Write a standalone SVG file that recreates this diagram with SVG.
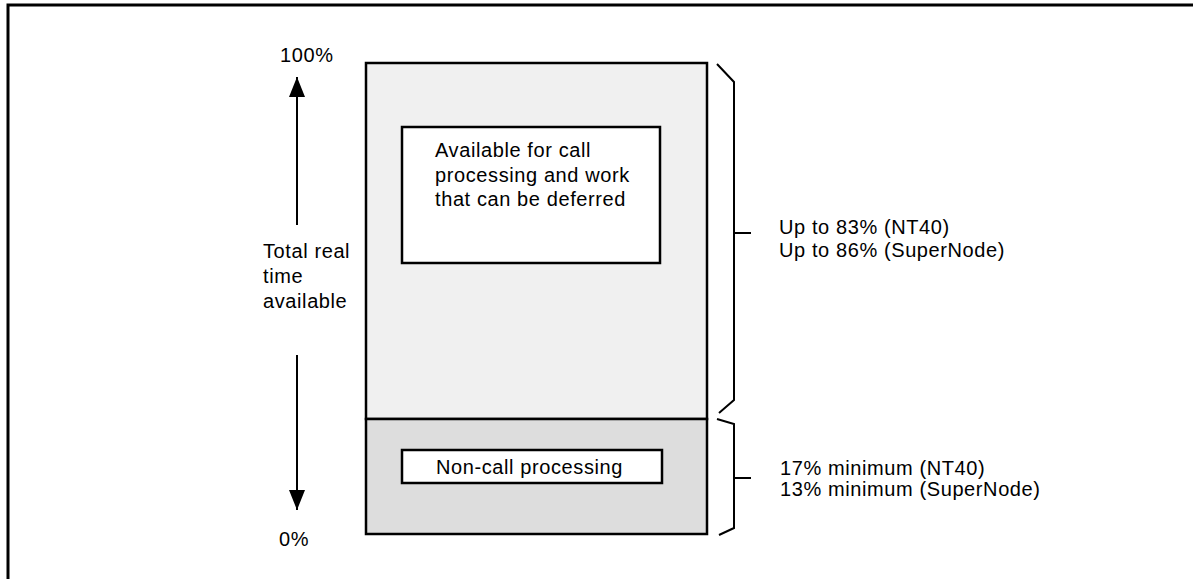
<svg xmlns="http://www.w3.org/2000/svg" width="1193" height="579" viewBox="0 0 1193 579">
<style>
text{font-family:"Liberation Sans",Arial,sans-serif;font-size:20px;letter-spacing:0.6px;fill:#000}
.ln{stroke:#000;stroke-width:2;fill:none}
.box{stroke:#000;stroke-width:2.5}
</style>
<defs>
<marker id="ah" viewBox="0 0 20 16" refX="20" refY="8" markerWidth="20" markerHeight="16" markerUnits="userSpaceOnUse" orient="auto">
<path d="M0,0 L20,8 L0,16 z" fill="#000"/>
</marker>
</defs>
<rect width="1193" height="579" fill="#fff"/>
<path d="M8,579 V5 H1193" stroke="#000" stroke-width="3" fill="none"/>
<g id="upper">
<rect class="box" x="366" y="63" width="341" height="356" fill="#f0f0f0"/>
</g>
<g id="lower">
<rect class="box" x="366" y="419" width="341" height="115" fill="#dddddd"/>
</g>
<g id="available">
<rect class="box" x="402" y="127" width="258" height="136" fill="#fff"/>
<text x="435" y="157">Available for call</text>
<text x="435" y="182">processing and work</text>
<text x="435" y="206">that can be deferred</text>
</g>
<g id="noncall">
<rect class="box" x="402" y="450" width="260" height="33" fill="#fff"/>
<text x="436" y="474">Non-call processing</text>
</g>
<g id="axis">
<text x="280" y="62">100%</text>
<text x="279" y="546">0%</text>
<text x="263" y="258">Total real</text>
<text x="263" y="283">time</text>
<text x="263" y="308">available</text>
</g>
<g id="braces-text">
<text x="779" y="234">Up to 83% (NT40)</text>
<text x="779" y="257">Up to 86% (SuperNode)</text>
<text x="780" y="475">17% minimum (NT40)</text>
<text x="780" y="496">13% minimum (SuperNode)</text>
</g>
<g id="connectors">
<line class="ln" x1="297" y1="225" x2="297" y2="77" marker-end="url(#ah)"/>
<line class="ln" x1="297" y1="355" x2="297" y2="510" marker-end="url(#ah)"/>
<path class="ln" d="M717,64 L734,82 V400 L719,413 M734,233 H751"/>
<path class="ln" d="M717,419 L734,424 V528 L719,535 M734,478 H751"/>
</g>
</svg>
